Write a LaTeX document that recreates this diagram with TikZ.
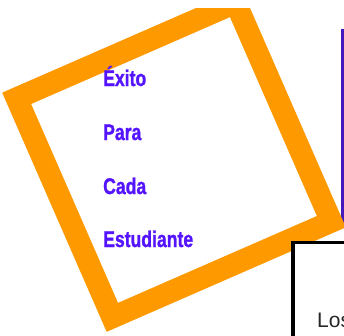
\documentclass[tikz,border=0pt]{standalone}
\usepackage{fontspec}
\setmainfont{Liberation Sans}
\newfontfamily\wordfont{Liberation Sans}[UprightFont={* Bold},FakeBold=1.3]
\usetikzlibrary{positioning}

\definecolor{frameorange}{RGB}{255,153,0}
\definecolor{wordblue}{RGB}{85,20,255}
\definecolor{panelblue}{RGB}{70,25,190}

\newcommand{\narrow}[1]{\scalebox{0.8}[1.03]{#1}}

\tikzset{
    word/.style={text=wordblue,font=\wordfont\fontsize{22}{22}\selectfont,anchor=base west,inner sep=0pt},
    frame/.style={draw=frameorange,line width=22pt,minimum size=239pt,rotate=23.6},
}

\begin{document}
\begin{tikzpicture}[x=1pt,y=-1pt]
    \clip (0,0) rectangle (344,335);
    \node[draw=panelblue,line width=3pt,anchor=north west,minimum width=120pt,minimum height=191pt] (panel) at (340.8,29) {};
    \begin{scope}
        \clip (0,8) rectangle (344,335);
        \node[frame] (square) at (174,160) {};
    \end{scope}
    \node[word] (w1) at (103,86) {\narrow{Éxito}};
    \node[word] (w2) at (103,140) {\narrow{Para}};
    \node[word] (w3) at (103,194) {\narrow{Cada}};
    \node[word] (w4) at (103,247) {\narrow{Estudiante}};
    \node[draw=black,fill=white,line width=3.5pt,anchor=north west,minimum width=120pt,minimum height=120pt] (textbox) at (291,240.5) {};
    \node[anchor=base west,inner sep=0pt,font=\fontsize{21}{21}\selectfont,text=black!85] (los) at (317,327) {Los};
\end{tikzpicture}
\end{document}
